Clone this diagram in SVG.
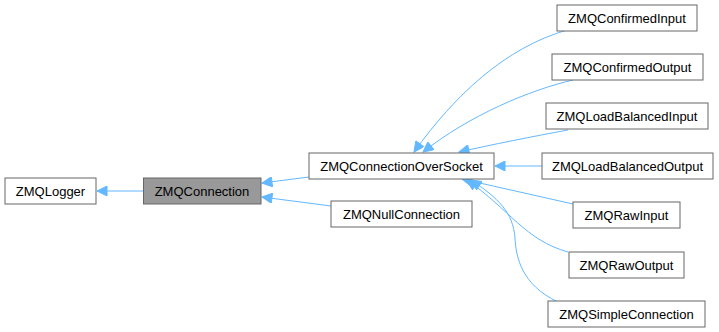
<svg xmlns="http://www.w3.org/2000/svg" width="719" height="332" viewBox="0 0 719 332">
<style>
.n rect{fill:#fff;stroke:#666;stroke-width:1}
.n text{font-family:"Liberation Sans",Arial,sans-serif;font-size:13px;fill:#000;text-anchor:middle}
#edges path{fill:none;stroke:#63b8ff;stroke-width:1;marker-end:url(#ah)}
</style>
<defs>
<marker id="ah" viewBox="0 0 10 10" refX="10" refY="5" markerWidth="12" markerHeight="10" markerUnits="userSpaceOnUse" orient="auto">
<path d="M0,0 L10,5 L0,10 z" fill="#63b8ff" stroke="#63b8ff"/>
</marker>
</defs>
<rect width="719" height="332" fill="#fff"/>
<g id="edges">
<path d="M143,191 L97,191"/>
<path d="M309,177 L262,183"/>
<path d="M331,206 L262,197"/>
<path d="M567,30 C505,48 455,95 414,152"/>
<path d="M573,80 C530,90 470,115 423,152"/>
<path d="M568,130 C535,136 490,145 459,152"/>
<path d="M542,166 L495,166"/>
<path d="M573,204 L462,179"/>
<path d="M568,252 C525,240 510,210 467,180"/>
<path d="M558,302 C522,285 516,258 515,238 C513,212 498,198 471,180"/>
</g>
<g id="ZMQLogger" class="n"><rect x="5" y="178" width="91" height="26"/><text x="50.5" y="195.5">ZMQLogger</text></g>
<g id="ZMQConnection" class="n"><rect x="143.5" y="178" width="117.5" height="26" style="fill:#999"/><text x="202" y="195.5">ZMQConnection</text></g>
<g id="ZMQConnectionOverSocket" class="n"><rect x="309" y="153" width="185" height="26"/><text x="401.5" y="170.5">ZMQConnectionOverSocket</text></g>
<g id="ZMQNullConnection" class="n"><rect x="331" y="201" width="141" height="26"/><text x="401.5" y="218.5">ZMQNullConnection</text></g>
<g id="ZMQConfirmedInput" class="n"><rect x="557" y="5" width="140" height="26"/><text x="627" y="22.5">ZMQConfirmedInput</text></g>
<g id="ZMQConfirmedOutput" class="n"><rect x="552" y="54" width="151" height="26"/><text x="627.5" y="71.5">ZMQConfirmedOutput</text></g>
<g id="ZMQLoadBalancedInput" class="n"><rect x="546" y="103" width="162" height="26"/><text x="627" y="120.5">ZMQLoadBalancedInput</text></g>
<g id="ZMQLoadBalancedOutput" class="n"><rect x="542" y="153" width="171" height="26"/><text x="627.5" y="170.5">ZMQLoadBalancedOutput</text></g>
<g id="ZMQRawInput" class="n"><rect x="573" y="202" width="107" height="26"/><text x="626.5" y="219.5">ZMQRawInput</text></g>
<g id="ZMQRawOutput" class="n"><rect x="569" y="252" width="115" height="26"/><text x="626.5" y="269.5">ZMQRawOutput</text></g>
<g id="ZMQSimpleConnection" class="n"><rect x="548" y="301" width="157" height="26"/><text x="626.5" y="318.5">ZMQSimpleConnection</text></g>
</svg>
